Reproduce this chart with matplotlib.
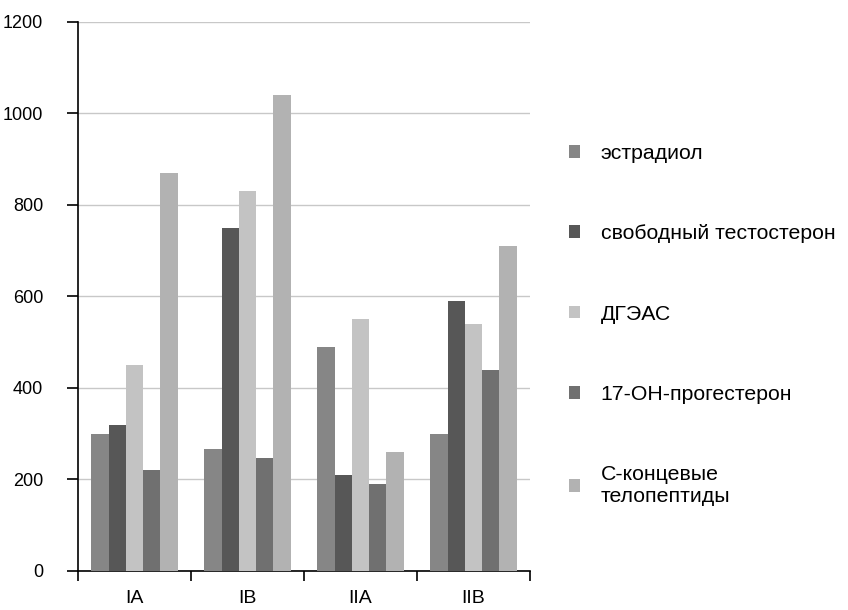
# -*- coding: utf-8 -*-
import numpy as np
import matplotlib
matplotlib.use("Agg")
import matplotlib.pyplot as plt

plt.rcParams['font.family'] = ['Liberation Sans', 'DejaVu Sans']

groups = ['IA', 'IB', 'IIA', 'IIB']
series = ['эстрадиол', 'свободный тестостерон', 'ДГЭАС', '17-ОН-прогестерон',
          'С-концевые\nтелопептиды']
estradiol = [300, 267, 490, 300]
testosterone = [320, 750, 210, 590]
dheas = [450, 830, 550, 540]
oh_progesterone = [220, 248, 190, 440]
telopeptides = [870, 1040, 260, 710]
values = [estradiol, testosterone, dheas, oh_progesterone, telopeptides]
colors = ['#868686', '#575757', '#c3c3c3', '#707070', '#b2b2b2']

fig = plt.figure(figsize=(8.48, 6.1), dpi=100)
ax = fig.add_axes([0.092, 0.064, 0.533, 0.9])

x = np.arange(len(groups))
w = 0.153
for i, (vals, c, lab) in enumerate(zip(values, colors, series)):
    ax.bar(x + (i - 2) * w, vals, width=w, color=c, label=lab, zorder=3)

ax.set_ylim(0, 1200)
ax.set_xlim(-0.5, len(groups) - 0.5)
ax.set_yticks(range(0, 1201, 200))
ax.yaxis.grid(True, color='#c8c8c8', linewidth=1, zorder=0)
ax.set_xticks(np.arange(-0.5, len(groups)), minor=False)
ax.set_xticklabels([])
ax.set_xticks(x, minor=True)
ax.set_xticklabels(groups, minor=True)
ax.tick_params(axis='x', which='minor', length=0, labelsize=14, pad=14)
ax.tick_params(axis='x', which='major', length=7, width=1.2, direction='out')
ax.tick_params(axis='y', length=8, width=1.2, labelsize=13, pad=17)

for s in ['top', 'right']:
    ax.spines[s].set_visible(False)
for s in ['left', 'bottom']:
    ax.spines[s].set_linewidth(1.2)

fig.legend(loc='upper left', bbox_to_anchor=(0.648, 0.795), frameon=False,
           fontsize=15.3, handlelength=0.55, handleheight=0.55,
           handletextpad=0.95, labelspacing=2.88)

fig.savefig('out.png', dpi=100)
